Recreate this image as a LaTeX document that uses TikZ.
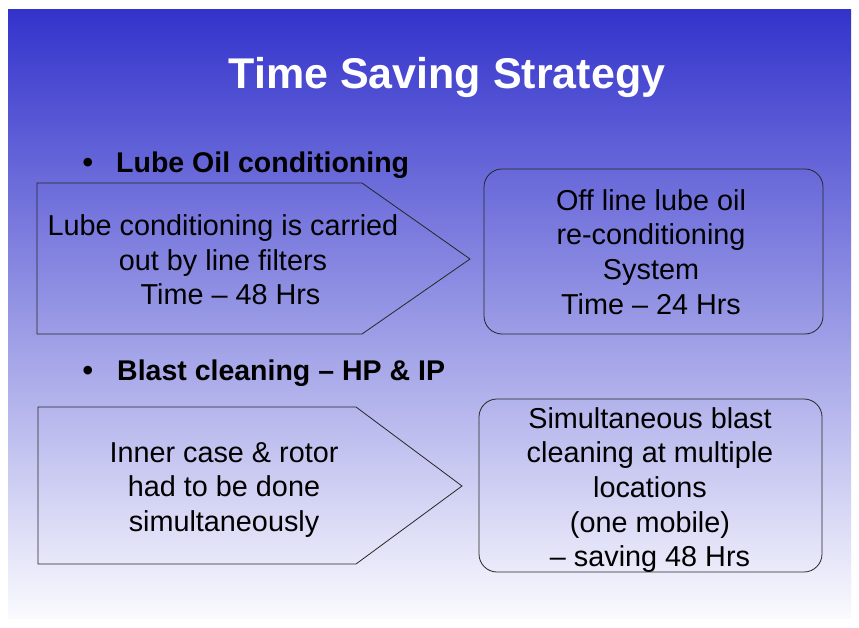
\documentclass[tikz,border=0pt]{standalone}
\usepackage{fontspec}
\setmainfont{Liberation Sans}
\begin{document}
\begin{tikzpicture}[x=1pt,y=-1pt,
  boxline/.style={draw=black!85, line width=0.8pt},
  boxtext/.style={align=center, font=\fontsize{28.8}{34.6}\selectfont, text=black, inner sep=0pt},
  bullethead/.style={font=\fontsize{28.5}{34}\selectfont\bfseries, anchor=base west, inner sep=0pt, text=black},
  bulletdot/.style={font=\fontsize{30}{34}\selectfont\bfseries, anchor=base, inner sep=0pt, text=black}]
\useasboundingbox (0,0) rectangle (859,628);
\fill[white] (0,0) rectangle (859,628);
\shade[top color={rgb,255:red,51;green,51;blue,204}, bottom color={rgb,255:red,250;green,250;blue,254}] (8,10) rectangle (851,618);

\node[anchor=base, text=white, font=\fontsize{43}{50}\selectfont\bfseries, inner sep=0pt] (title) at (447,89) {Time Saving Strategy};

\node[bulletdot] (b1dot) at (88,173) {•};
\node[bullethead] (b1) at (116,173) {Lube Oil conditioning};
\node[bulletdot] (b2dot) at (88,380) {•};
\node[bullethead] (b2) at (117,380) {Blast cleaning – HP \& IP};

% pentagon 1
\draw[boxline] (37,183) -- (362,183) -- (470,259) -- (362,334) -- (37,334) -- cycle;
\node[boxtext] (p1) at (223,260) {Lube conditioning is carried\\out by line filters\\\hspace*{15pt}Time – 48 Hrs};

% rounded box 1
\draw[boxline, rounded corners=18pt] (484,169) rectangle (823,334);
\node[boxtext] (r1) at (651,252) {Off line lube oil\\re-conditioning\\System\\Time – 24 Hrs};

% pentagon 2
\draw[boxline] (38,407) -- (356,407) -- (462,486) -- (356,564) -- (38,564) -- cycle;
\node[boxtext] (p2) at (224,490) {Inner case \& rotor\\had to be done\\simultaneously};

% rounded box 2
\draw[boxline, rounded corners=18pt] (479,399) rectangle (822,572);
\node[boxtext] (r2) at (650,490) {Simultaneous blast\\cleaning at multiple\\locations\\(one mobile)\\– saving 48 Hrs};
\end{tikzpicture}
\end{document}
